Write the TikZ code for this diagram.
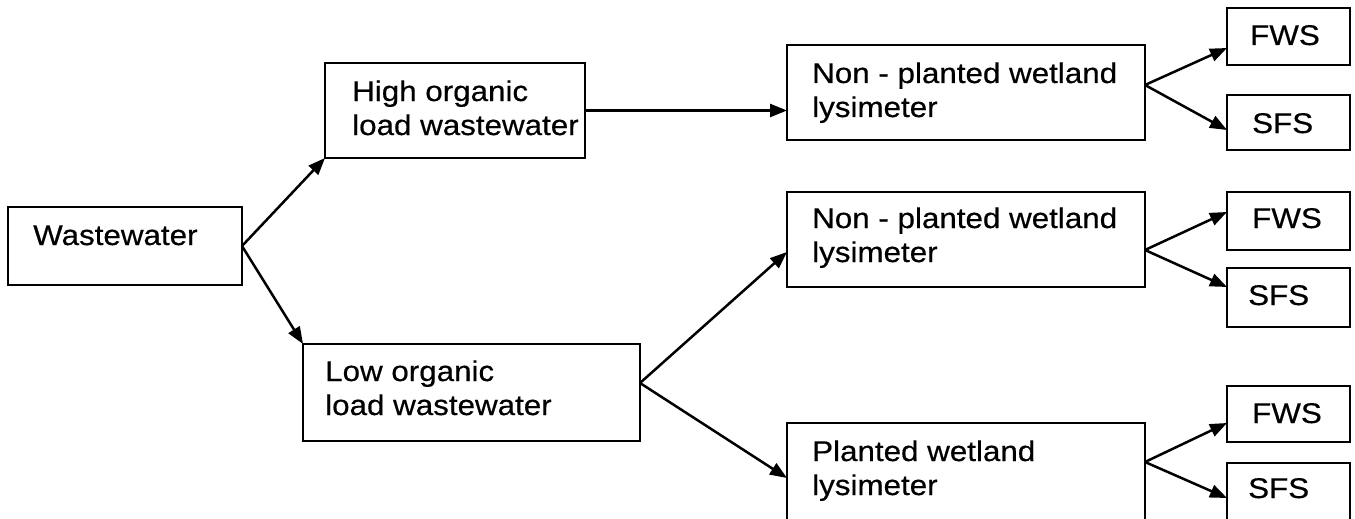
\documentclass[tikz,border=0pt]{standalone}
\usepackage{fontspec}
\setmainfont{Liberation Sans}[FakeStretch=1.1,FakeBold=0.5]
\usetikzlibrary{arrows.meta}
\begin{document}
\begin{tikzpicture}[x=1pt,y=-1pt,
  box/.style={draw,line width=2.5pt,inner sep=0pt,outer sep=0pt,rectangle},
  txt/.style={anchor=base west,inner sep=0pt,align=left,font=\fontsize{28.5}{34}\selectfont},
  arr/.style={line width=2.5pt,-{Triangle[length=17pt,width=13pt]}}]
\useasboundingbox (0,0) rectangle (1355,519);
\clip (0,0) rectangle (1355,519);
% boxes
\node[box,minimum width=234pt,minimum height=78pt] (ww) at (125,246) {};
\node[box,minimum width=260pt,minimum height=95pt] (hi) at (455,110.5) {};
\node[box,minimum width=337pt,minimum height=97pt] (lo) at (471.5,392.5) {};
\node[box,minimum width=358pt,minimum height=95pt] (np1) at (966,92.5) {};
\node[box,minimum width=358pt,minimum height=95pt] (np2) at (966,239.5) {};
\node[box,minimum width=358pt,minimum height=140pt] (pl) at (966,493) {};
\node[box,minimum width=123pt,minimum height=57pt] (f1) at (1288.5,36.5) {};
\node[box,minimum width=123pt,minimum height=55pt] (s1) at (1288.5,122.5) {};
\node[box,minimum width=123pt,minimum height=58pt] (f2) at (1288.5,221) {};
\node[box,minimum width=123pt,minimum height=59pt] (s2) at (1288.5,297.5) {};
\node[box,minimum width=123pt,minimum height=56pt] (f3) at (1288.5,414) {};
\node[box,minimum width=123pt,minimum height=97pt] (s3) at (1288.5,511.5) {};
% texts (base = baseline of the last line)
\node[txt] (tww) at (33,245) {Wastewater};
\node[txt] (thi) at (352,135) {High organic\\load wastewater};
\node[txt] (tlo) at (325,415) {Low organic\\load wastewater};
\node[txt] (tnp1) at (812,117) {Non - planted wetland\\lysimeter};
\node[txt] (tnp2) at (812,262) {Non - planted wetland\\lysimeter};
\node[txt] (tpl) at (812,495) {Planted wetland\\lysimeter};
\node[txt] (tf1) at (1250,45) {FWS};
\node[txt] (ts1) at (1252,133) {SFS};
\node[txt] (tf2) at (1252,228) {FWS};
\node[txt] (ts2) at (1248,305) {SFS};
\node[txt] (tf3) at (1252,423) {FWS};
\node[txt] (ts3) at (1248,498) {SFS};
% connectors
\draw[arr] (ww.east) -- (hi.south west);
\draw[arr] (ww.east) -- (lo.north west);
\draw[arr] (hi.east) -- (hi.east -| np1.west);
\draw[arr] ([yshift=9.5pt]lo.east) -- ([yshift=-12.5pt]np2.west);
\draw[arr] ([yshift=9.5pt]lo.east) -- ([yshift=15pt]pl.west);
\draw[arr] ([yshift=7.5pt]np1.east) -- ([yshift=-11.5pt]f1.west);
\draw[arr] ([yshift=7.5pt]np1.east) -- ([yshift=-7.5pt]s1.west);
\draw[arr] ([yshift=-10.5pt]np2.east) -- ([yshift=9pt]f2.west);
\draw[arr] ([yshift=-10.5pt]np2.east) -- ([yshift=10.5pt]s2.west);
\draw[arr] ([yshift=31pt]pl.east) -- ([yshift=-9pt]f3.west);
\draw[arr] ([yshift=31pt]pl.east) -- ([yshift=13.5pt]s3.west);
\end{tikzpicture}
\end{document}
